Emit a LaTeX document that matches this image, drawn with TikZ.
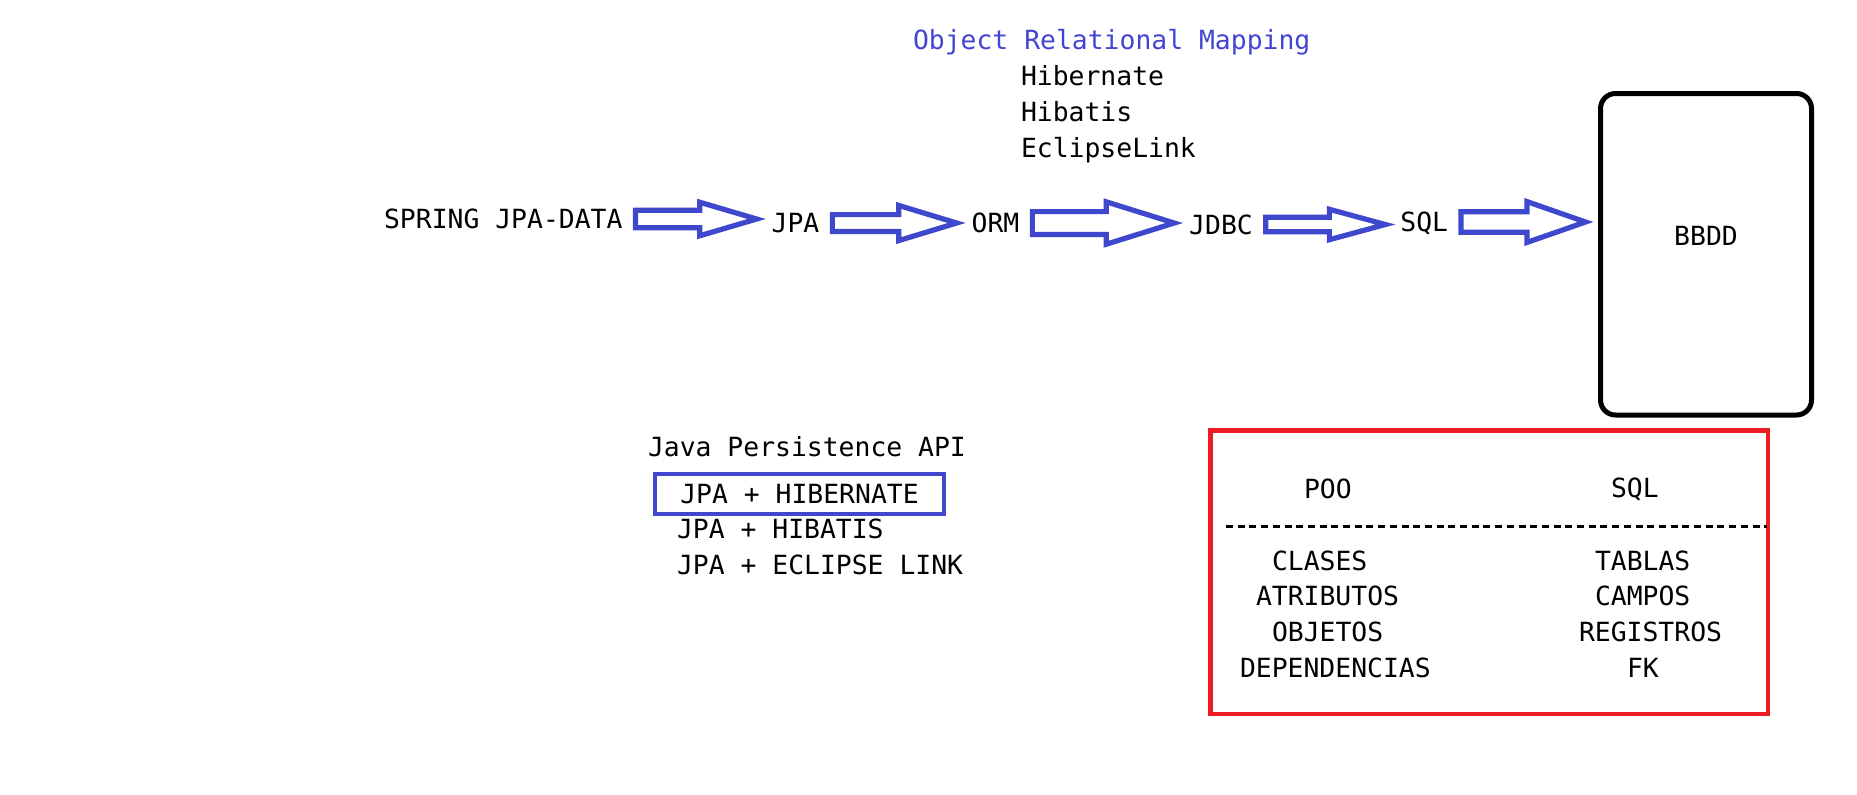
\documentclass[tikz,border=0pt]{standalone}
\usepackage{fontspec}
\setmonofont{DejaVu Sans Mono}
\usetikzlibrary{calc}
\definecolor{indigo}{RGB}{63,72,204}
\definecolor{ormblue}{RGB}{66,68,210}
\definecolor{paintred}{RGB}{237,28,36}
\begin{document}
\begin{tikzpicture}[x=0.5pt, y=-0.5pt]
 \tikzset{txt/.style={font=\ttfamily\fontsize{13.2}{16}\selectfont, inner sep=0pt, outer sep=0pt}}
 \tikzset{item/.style={txt, text height=9.6pt, text depth=0pt}}
 \tikzset{block/.style n args={3}{draw=indigo, line width=2.6pt, line join=miter,
   to path={let \p1=(\tikztostart.east), \p2=(\tikztotarget.west) in
     (\x1+6.5pt,\y1+#1) -- (\x2-7.5pt-#3,\y1+#1) -- (\x2-7.5pt-#3,\y1+#2) -- (\x2-7.5pt,\y1)
     -- (\x2-7.5pt-#3,\y1-#2) -- (\x2-7.5pt-#3,\y1-#1) -- (\x1+6.5pt,\y1-#1) -- cycle}}}
  \useasboundingbox (0,0) rectangle (1857,794);
  \node[txt, text=ormblue, anchor=base west] (ormtitle) at (913,49) {Object Relational Mapping};
  \node[txt, anchor=base west] (hib1) at (1021,85.7) {Hibernate};
  \node[txt, anchor=base west] (hib2) at (1021,121.7) {Hibatis};
  \node[txt, anchor=base west] (hib3) at (1021,157.5) {EclipseLink};
  \node[item] (spring) at (503.3,219) {SPRING JPA-DATA};
  \node[item] (jpa) at (795.5,223) {JPA};
  \node[item] (orm) at (995.5,223) {ORM};
  \node[item] (jdbc) at (1221,224.5) {JDBC};
  \node[item] (sql) at (1424.2,222) {SQL};
  \node[txt, draw, line width=2.5pt, rounded corners=7.5pt, minimum width=105.5pt, minimum height=160.75pt, text depth=18pt] (bbdd) at (1706,254.25) {BBDD};
  \draw[block={4.4pt}{8.4pt}{28.5pt}] (spring) to (jpa);
  \draw[block={4.2pt}{8.8pt}{29pt}] (jpa) to (orm);
  \draw[block={5.7pt}{10.6pt}{34pt}] (orm) to (jdbc);
  \draw[block={3.6pt}{7.6pt}{28pt}] (jdbc) to (sql);
  \draw[block={5.1pt}{10.2pt}{29.25pt}] (sql) to (bbdd);
  \node[txt, anchor=base west] (jpaapi) at (648,456) {Java Persistence API};
  \node[txt, draw=indigo, line width=2pt, minimum width=144.5pt, minimum height=20pt] (jpahib) at (799.5,494) {JPA + HIBERNATE};
  \node[txt, anchor=base west] (jpahibatis) at (677,538) {JPA + HIBATIS};
  \node[txt, anchor=base west] (jpaecl) at (677,574) {JPA + ECLIPSE LINK};
  \draw[paintred, line width=2.3pt] (1210.5,430.5) rectangle (1768,714);
  \draw[dash pattern=on 3.5pt off 2.35pt, line width=1.5pt] (1226,526) -- (1767,526);
  \node[txt, anchor=base west] (poo) at (1304,498) {POO};
  \node[txt, anchor=base west] (sqlcol) at (1611,497) {SQL};
  \node[txt, anchor=base west] (clases) at (1272,570) {CLASES};
  \node[txt, anchor=base west] (atributos) at (1256,605.5) {ATRIBUTOS};
  \node[txt, anchor=base west] (objetos) at (1272,641) {OBJETOS};
  \node[txt, anchor=base west] (dependencias) at (1240,677) {DEPENDENCIAS};
  \node[txt, anchor=base west] (tablas) at (1595,570) {TABLAS};
  \node[txt, anchor=base west] (campos) at (1595,605.5) {CAMPOS};
  \node[txt, anchor=base west] (registros) at (1579,641) {REGISTROS};
  \node[txt, anchor=base west] (fk) at (1627,677) {FK};
\end{tikzpicture}
\end{document}
